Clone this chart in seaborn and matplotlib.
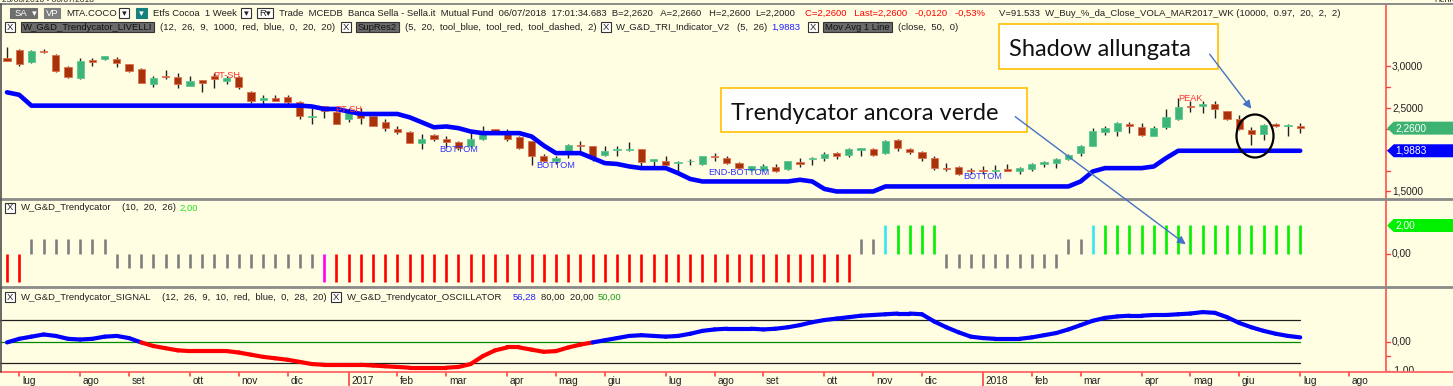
import numpy as np
import pandas as pd
import matplotlib
matplotlib.use('Agg')
import matplotlib.pyplot as plt
from matplotlib import transforms
from matplotlib.patches import Rectangle, Polygon, Ellipse, FancyArrowPatch
from matplotlib.collections import LineCollection
import seaborn as sns

# ------------------------------------------------------------------
# Data (weekly bars MTA.COCO)
# ------------------------------------------------------------------
first_week = '2016-06-24'

opens = [3.10, 3.20, 3.05, 3.18, 3.14, 2.99, 2.86, 3.08, 3.09, 3.09, 3.03, 2.97, 2.79, 2.88, 2.87, 2.77,
         2.84, 2.89, 2.83, 2.87, 2.69, 2.60, 2.62, 2.63, 2.57, 2.39, 2.52, 2.45, 2.37, 2.44, 2.40, 2.33,
         2.25, 2.21, 2.08, 2.18, 2.13, 2.09, 2.04, 2.13, 2.25, 2.23, 2.15, 2.10, 1.93, 1.87, 1.96, 2.06,
         2.04, 1.94, 2.00, 2.00, 2.01, 1.87, 1.87, 1.84, 1.86, 1.83, 1.93, 1.90, 1.84, 1.76, 1.76, 1.79,
         1.77, 1.85, 1.89, 1.90, 1.96, 1.94, 2.00, 2.01, 1.96, 2.12, 2.01, 1.97, 1.90, 1.78, 1.79, 1.76,
         1.76, 1.75, 1.77, 1.74, 1.77, 1.83, 1.84, 1.89, 1.96, 2.05, 2.21, 2.22, 2.31, 2.27, 2.17, 2.27,
         2.37, 2.53, 2.53, 2.55, 2.46, 2.37, 2.24, 2.19, 2.31, 2.29, 2.29]
highs = [3.23, 3.21, 3.20, 3.21, 3.15, 3.00, 3.10, 3.10, 3.13, 3.11, 3.03, 2.98, 2.89, 2.96, 2.92, 2.89,
         2.84, 2.92, 2.88, 2.88, 2.70, 2.66, 2.66, 2.66, 2.59, 2.50, 2.53, 2.46, 2.50, 2.50, 2.41, 2.37,
         2.29, 2.23, 2.19, 2.19, 2.16, 2.10, 2.21, 2.29, 2.25, 2.25, 2.16, 2.10, 1.95, 1.92, 2.07, 2.11,
         2.05, 2.05, 2.05, 2.09, 2.01, 1.89, 1.92, 1.86, 1.89, 1.92, 1.96, 1.92, 1.85, 1.81, 1.83, 1.83,
         1.87, 1.90, 1.91, 1.97, 1.97, 2.02, 2.02, 2.02, 2.12, 2.13, 2.02, 1.98, 1.93, 1.84, 1.80, 1.78,
         1.80, 1.82, 1.83, 1.79, 1.84, 1.86, 1.90, 1.95, 2.06, 2.26, 2.28, 2.33, 2.33, 2.32, 2.28, 2.49,
         2.62, 2.58, 2.58, 2.58, 2.47, 2.42, 2.27, 2.31, 2.32, 2.31, 2.32]
lows = [3.07, 3.00, 3.04, 3.16, 2.93, 2.86, 2.85, 3.00, 3.08, 2.99, 2.93, 2.80, 2.75, 2.85, 2.74, 2.77,
        2.69, 2.74, 2.79, 2.73, 2.56, 2.54, 2.58, 2.53, 2.37, 2.31, 2.38, 2.31, 2.33, 2.31, 2.28, 2.22,
        2.19, 2.08, 2.01, 2.11, 2.02, 2.00, 2.03, 2.12, 2.20, 2.10, 2.01, 1.82, 1.85, 1.83, 1.90, 1.99,
        1.87, 1.92, 1.92, 1.99, 1.80, 1.80, 1.81, 1.75, 1.82, 1.82, 1.86, 1.83, 1.77, 1.75, 1.75, 1.73,
        1.76, 1.79, 1.82, 1.87, 1.89, 1.91, 1.92, 1.93, 1.95, 1.99, 1.95, 1.87, 1.76, 1.75, 1.70, 1.71,
        1.71, 1.71, 1.74, 1.71, 1.74, 1.79, 1.78, 1.88, 1.93, 2.04, 2.18, 2.16, 2.20, 2.17, 2.16, 2.25,
        2.36, 2.45, 2.44, 2.38, 2.36, 2.24, 2.06, 2.12, 2.27, 2.16, 2.20]
closes = [3.07, 3.03, 3.19, 3.17, 2.94, 2.87, 3.06, 3.05, 3.13, 3.04, 2.95, 2.80, 2.86, 2.87, 2.79, 2.82,
          2.80, 2.85, 2.86, 2.75, 2.58, 2.62, 2.59, 2.57, 2.40, 2.40, 2.46, 2.31, 2.45, 2.38, 2.28, 2.26,
          2.21, 2.08, 2.13, 2.13, 2.09, 2.02, 2.13, 2.23, 2.21, 2.13, 2.02, 1.93, 1.87, 1.90, 2.06, 2.04,
          1.90, 1.99, 2.01, 2.01, 1.85, 1.89, 1.82, 1.85, 1.87, 1.92, 1.91, 1.84, 1.78, 1.80, 1.81, 1.75,
          1.86, 1.83, 1.90, 1.95, 1.92, 2.01, 2.02, 1.94, 2.11, 2.02, 1.97, 1.90, 1.78, 1.77, 1.71, 1.75,
          1.74, 1.76, 1.75, 1.78, 1.83, 1.85, 1.89, 1.94, 2.05, 2.22, 2.26, 2.32, 2.29, 2.18, 2.26, 2.39,
          2.51, 2.51, 2.55, 2.49, 2.37, 2.25, 2.19, 2.30, 2.29, 2.30, 2.26]

# W_G&D_Trendycator_LIVELLI (blue support line)
support = [2.69, 2.66, 2.53, 2.53, 2.53, 2.53, 2.53, 2.53, 2.53, 2.53, 2.53, 2.53, 2.53, 2.53, 2.53, 2.53,
           2.53, 2.53, 2.53, 2.53, 2.53, 2.53, 2.53, 2.53, 2.53, 2.52, 2.49, 2.49, 2.46, 2.43, 2.43, 2.43,
           2.43, 2.39, 2.33, 2.27, 2.28, 2.26, 2.22, 2.20, 2.20, 2.20, 2.20, 2.16, 2.05, 1.96, 1.96, 1.96,
           1.90, 1.84, 1.83, 1.80, 1.78, 1.78, 1.78, 1.72, 1.65, 1.62, 1.62, 1.62, 1.62, 1.62, 1.62, 1.62,
           1.62, 1.64, 1.62, 1.53, 1.50, 1.50, 1.50, 1.50, 1.56, 1.56, 1.56, 1.56, 1.56, 1.56, 1.56, 1.56,
           1.56, 1.56, 1.56, 1.56, 1.56, 1.56, 1.56, 1.56, 1.62, 1.74, 1.78, 1.78, 1.78, 1.78, 1.80, 1.90,
           1.9883, 1.9883, 1.9883, 1.9883, 1.9883, 1.9883, 1.9883, 1.9883, 1.9883, 1.9883, 1.9883]

# W_G&D_Trendycator histogram: (value, colour, number of weeks)
trend_runs = [(-2, 'red', 2), (1, 'gray', 7), (-1, 'gray', 17), (-2, 'magenta', 1), (-2, 'red', 43),
              (1, 'gray', 2), (2, 'cyan', 1), (2, 'lime', 4), (-1, 'gray', 10), (1, 'gray', 2),
              (2, 'cyan', 1), (2, 'lime', 17)]

# W_G&D_Trendycator_SIGNAL / OSCILLATOR line
signal = [49, 54, 57, 60, 58, 54, 53, 54, 57, 58, 55, 49, 44, 41, 38, 37, 37, 37, 37, 35, 32, 29, 27, 25,
          22, 19, 18, 18, 18, 18, 17, 16, 15, 14, 14, 14, 14, 15, 19, 30, 38, 42, 42, 39, 36, 37, 42, 46,
          49, 52, 55, 58, 59, 58, 57, 58, 61, 65, 67, 68, 68, 68, 67, 68, 70, 73, 77, 80, 82, 84, 86, 87,
          88, 89, 89, 88, 78, 70, 63, 57, 55, 54, 54, 54, 56, 59, 62, 67, 73, 79, 83, 85, 86, 86, 87, 87,
          88, 89, 91, 90, 84, 76, 70, 65, 61, 58, 56]
osc_levels = [80, 20]
osc_mid = 50

price_ticks = [3.0, 2.5, 1.5]
price_minor = [2.75, 2.25, 2.0, 1.75]
mesi = ['gen', 'feb', 'mar', 'apr', 'mag', 'giu', 'lug', 'ago', 'set', 'ott', 'nov', 'dic']

# ------------------------------------------------------------------
# Style
# ------------------------------------------------------------------
W, H = 1453, 386
BG = '#FFFEE3'
RED_AX = '#FF4040'
sns.set_theme(style='white', rc={'axes.facecolor': BG, 'figure.facecolor': BG})
plt.rcParams['font.family'] = ['Liberation Sans', 'DejaVu Sans']

fig = plt.figure(figsize=(W / 100, H / 100), dpi=100, facecolor=BG)
renderer = fig.canvas.get_renderer()


def fx(x):
    return x / W


def fy(y):
    return 1 - y / H


# pixel -> bar index (first bar at 7 px, 12.2 px per week)
X0, X1 = -7 / 12.2, (W - 7) / 12.2
X_AXIS = (1386 - 7) / 12.2


def add_panel(top, bottom, ylim):
    ax = fig.add_axes([0, fy(bottom), 1, (bottom - top) / H])
    ax.set_facecolor(BG)
    ax.set_xlim(X0, X1)
    ax.set_ylim(*ylim)
    for s in ax.spines.values():
        s.set_visible(False)
    ax.set_xticks([])
    ax.set_yticks([])
    ax.axvline(X_AXIS, color=RED_AX, lw=1.1)
    return ax


ax1 = add_panel(4, 198, (1.4214, 3.750))
ax2 = add_panel(199.5, 286.5, (-2.357, 3.857))
ax3 = add_panel(288, 372, (8.03, 124.4))

idx = np.arange(len(closes))
dates = pd.date_range(first_week, periods=113, freq='7D')

# ---------------- price panel ----------------
o, h, l, c = map(np.array, (opens, highs, lows, closes))
up = c >= o
ax1.vlines(idx, l, h, color='#222222', lw=1.0, zorder=2)
body_h = np.maximum(np.abs(c - o), 0.008)
ax1.bar(idx, body_h, bottom=np.minimum(o, c), width=0.58,
        color=np.where(up, '#3DB579', '#A8320A'),
        edgecolor=np.where(up, '#5CC890', '#E07050'), linewidth=0.6, zorder=3)
sns.lineplot(x=idx, y=support, ax=ax1, color='#0000FF', lw=3.3, zorder=4)
ax1.set_xlabel('')
ax1.set_ylabel('')

labels_top = [('PT-SH', 18, 2.886, '#FF3030'), ('PT-SH', 28, 2.478, '#FF3030'),
              ('BOTTOM', 37, 2.00, '#3030FF'), ('BOTTOM', 45, 1.806, '#3030FF'),
              ('END-BOTTOM', 60, 1.722, '#3030FF'), ('BOTTOM', 80, 1.685, '#3030FF'),
              ('PEAK', 97, 2.61, '#FF3030')]
for t, xi, yi, col in labels_top:
    ax1.text(xi, yi, t, color=col, fontsize=6.6, ha='center', va='center', zorder=5)

# ---------------- trendycator histogram ----------------
t_vals, t_cols = [], []
for v, col, n in trend_runs:
    t_vals += [v] * n
    t_cols += [col] * n
cmap = {'red': '#FF0000', 'gray': '#7F7F7F', 'magenta': '#FF00FF', 'cyan': '#33E6F0', 'lime': '#00F000'}
ax2.vlines(idx, 0, t_vals, colors=[cmap[k] for k in t_cols], lw=1.9)

# ---------------- signal panel ----------------
for lv in osc_levels:
    ax3.plot([X0, idx[-1]], [lv, lv], color='#202020', lw=0.9)
ax3.plot([X0, idx[-1]], [osc_mid, osc_mid], color='#008A00', lw=0.9)
sig = np.array(signal, dtype=float)
segs = [[(idx[k], sig[k]), (idx[k + 1], sig[k + 1])] for k in range(len(sig) - 1)]
seg_cols = ['#FF0000' if (sig[k] + sig[k + 1]) / 2 < osc_mid else '#0000FF' for k in range(len(sig) - 1)]
ax3.add_collection(LineCollection(segs, colors=seg_cols, linewidths=3.0, capstyle='round', zorder=4))

# ---------------- right scales ----------------
def right_label(ax, val, txt, clip=False):
    tr = transforms.blended_transform_factory(fig.transFigure, ax.transData)
    ax.plot([fx(1386), fx(1389.5)], [val, val], transform=tr, color=RED_AX, lw=1.0)
    if txt:
        ax.text(fx(1392), val, txt, transform=tr, fontsize=7.3, va='center', ha='left',
                color='#202020', clip_on=clip)


for v in price_ticks:
    right_label(ax1, v, f'{v:.4f}'.replace('.', ','))
for v in price_minor:
    right_label(ax1, v, None)
right_label(ax2, 0, '0,00')
right_label(ax3, 50, '0,00')
right_label(ax3, 30.6, None)
right_label(ax3, 9.8, '-1,00', clip=True)


def tag(ax, val, txt, col):
    yd = ax.transData.transform((0, val))[1] / H
    hh = 5.8 / H
    pts = [(fx(1388), yd), (fx(1394), yd + hh), (1, yd + hh), (1, yd - hh), (fx(1394), yd - hh)]
    fig.add_artist(Polygon(pts, closed=True, transform=fig.transFigure, color=col, zorder=6))
    fig.text(fx(1395), yd, txt, color='white', fontsize=7.3, va='center', ha='left', zorder=7)


tag(ax1, closes[-1], '2,2600', '#3CB371')
tag(ax1, support[-1], '1,9883', '#0000FF')
tag(ax2, t_vals[-1], '2,00', '#00F000')

# ---------------- x axis ----------------
fig.add_artist(plt.Line2D([0, 1], [fy(372), fy(372)], color='#FF6464', lw=1.3))
xt = transforms.blended_transform_factory(ax3.transData, fig.transFigure)
for k in range(1, len(dates)):
    if dates[k].month != dates[k - 1].month:
        yr = dates[k].month == 1
        lab = str(dates[k].year) if yr else mesi[dates[k].month - 1]
        ax3.plot([k, k], [fy(372), fy(386 if yr else 375.5)], transform=xt, color='#FF3030',
                 lw=1.1, clip_on=False)
        ax3.text(k + 0.22, fy(380.5), lab, transform=xt, fontsize=7.3, va='center', ha='left',
                 color='#202020', clip_on=False)

# ---------------- frame lines ----------------
for yy, col, lw in [(4, '#8A8A8A', 1.4), (199, '#8A8A8A', 2.0), (287.3, '#8A8A8A', 2.0)]:
    fig.add_artist(plt.Line2D([0, 1], [fy(yy), fy(yy)], color=col, lw=lw))
fig.add_artist(plt.Line2D([fx(0.7), fx(0.7)], [fy(4), fy(372)], color='#505050', lw=1.2))

# ---------------- header texts ----------------
FS = 6.8


def box(x, y, w, hgt, fc, ec=None, txt='', tc='white'):
    fig.add_artist(Rectangle((fx(x), fy(y + hgt)), w / W, hgt / H, transform=fig.transFigure,
                             facecolor=fc, edgecolor=ec if ec else fc, lw=0.8))
    if txt:
        fig.text(fx(x + w / 2), fy(y + hgt / 2), txt, color=tc, fontsize=FS, ha='center', va='center')


def xbox(x, yc):
    box(x, yc - 5, 10, 10, 'white', '#333333', 'X', '#222222')


def txt(x, yc, s, col='#202020'):
    return fig.text(fx(x), fy(yc), s, color=col, fontsize=FS, ha='left', va='center')


def flow(x, yc, items):
    # items: (kind, text, colour, gap after)
    for kind, s, col, gap in items:
        if kind == 'x':
            xbox(x, yc)
            x += 10 + gap
        elif kind == 'b':
            t = txt(x + 2, yc, s, '#111111')
            w = t.get_window_extent(renderer).width
            fig.add_artist(Rectangle((fx(x), fy(yc + 5)), (w + 4) / W, 10 / H, transform=fig.transFigure,
                                     facecolor='#6B6B6B', edgecolor='#333333', lw=0.8, zorder=1))
            x += w + 4 + gap
        else:
            t = txt(x, yc, s, col)
            x += t.get_window_extent(renderer).width + gap
    return x


fig.text(fx(2), fy(0.5), '23/06/2016 - 06/07/2018', fontsize=6, va='center', ha='left', color='#202020')
fig.text(fx(1434), fy(0.5), 'Henreweekly', fontsize=6, va='center', ha='left', color='#202020')

r1 = 13.3
box(10, 8.3, 21, 10, '#6E6E6E', txt='SA')
box(31, 8.3, 6, 10, '#6E6E6E', txt='▾')
box(44, 8.3, 16, 10, '#7E7E7E', txt='VP')
txt(66, r1, 'MTA.COCO')
box(119, 8.3, 10, 10, 'white', '#333333', '▾', '#222222')
box(136, 8.3, 11, 10, '#17807E', txt='▾')
txt(153, r1, 'Etfs Cocoa  1 Week')
box(241, 8.3, 10, 10, 'white', '#333333', '▾', '#222222')
box(257, 8.3, 16, 10, 'white', '#333333', 'R▾', '#222222')
txt(279, r1, 'Trade  MCEDB  Banca Sella - Sella.it  Mutual Fund  06/07/2018  17:01:34.683  '
             'B=2,2620   A=2,2660   H=2,2600')
txt(755, r1, 'L=2,2000')
txt(805, r1, 'C=2,2600   Last=2,2600   -0,0120   -0,53%', '#FF0000')
txt(999, r1, 'V=91.533  W_Buy_%_da_Close_VOLA_MAR2017_WK (10000,  0.97,  20,  2,  2)')

flow(5, 27, [
    ('x', '', None, 6),
    ('b', 'W_G&D_Trendycator_LIVELLI', None, 6),
    ('t', '(12,  26,  9,  1000,  red,  blue,  0,  20,  20)', '#202020', 5),
    ('x', '', None, 5),
    ('b', 'SupRes2', None, 6),
    ('t', '(5,  20,  tool_blue,  tool_red,  tool_dashed,  2)', '#202020', 5),
    ('x', '', None, 5),
    ('t', 'W_G&D_TRI_Indicator_V2', '#202020', 6),
    ('t', '(5,  26)', '#202020', 4),
    ('t', '1,9883', '#2020FF', 8),
    ('x', '', None, 5),
    ('b', 'Mov Avg 1 Line', None, 6),
    ('t', '(close,  50,  0)', '#202020', 0),
])

flow(5, 208, [
    ('x', '', None, 6),
    ('t', 'W_G&D_Trendycator', '#202020', 10),
    ('t', '(10,  20,  26)', '#202020', 4),
    ('t', '2,00', '#22DD22', 0),
])

flow(5, 297, [
    ('x', '', None, 6),
    ('t', 'W_G&D_Trendycator_SIGNAL', '#202020', 10),
    ('t', '(12,  26,  9,  10,  red,  blue,  0,  28,  20)', '#202020', 5),
    ('x', '', None, 6),
    ('t', 'W_G&D_Trendycator_OSCILLATOR', '#202020', 10),
    ('t', '56,28', '#2020FF', 5),
    ('t', '80,00  20,00', '#202020', 4),
    ('t', '50,00', '#1A9A1A', 0),
])

# ---------------- call-outs ----------------
for x, y, w, hgt in [(721, 88, 306, 44), (999, 24, 219, 45)]:
    fig.add_artist(Rectangle((fx(x), fy(y + hgt)), w / W, hgt / H, transform=fig.transFigure,
                             facecolor='white', edgecolor='#FFC000', lw=1.2, zorder=5))
fig.text(fx(731), fy(120), 'Trendycator ancora verde', fontsize=17, family='Lato',
         va='baseline', ha='left', color='#111111', zorder=6)
fig.text(fx(1009), fy(56), 'Shadow allungata', fontsize=17, family='Lato',
         va='baseline', ha='left', color='#111111', zorder=6)

for a, b in [((1013, 115), (1188, 246)), ((1208, 52), (1253, 111))]:
    fig.add_artist(FancyArrowPatch((fx(a[0]), fy(a[1])), (fx(b[0]), fy(b[1])), transform=fig.transFigure,
                                   arrowstyle='-|>', mutation_scale=12, color='#4472C4', lw=1.0, zorder=7))

fig.add_artist(Ellipse((fx(1255), fy(136)), 37 / W, 43 / H, transform=fig.transFigure,
                       fill=False, edgecolor='black', lw=1.6, zorder=7))

fig.savefig('out.png', dpi=100, facecolor=BG)
